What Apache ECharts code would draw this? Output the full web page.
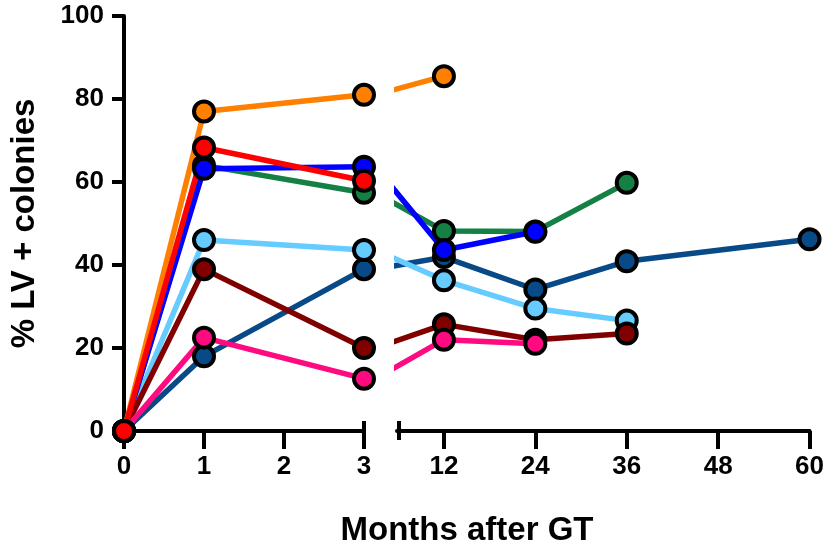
<!DOCTYPE html>
<html>
<head>
<meta charset="utf-8">
<script src="https://cdn.jsdelivr.net/npm/echarts@6/dist/echarts.min.js"></script>
<style>
  html, body { margin: 0; padding: 0; background: #fff; }
  #chart { width: 827px; height: 551px; }
</style>
</head>
<body>
<div id="chart"></div>
<script>
// months on the two parts of the broken axis
var monthsLeft = [0, 1, 3];
var monthsRight = [3, 12, 24, 36, 60];
var ticksRight = [12, 24, 36, 48, 60];

// % LV+ colonies per subject (null = not measured)
var orange    = [0, 77, 81, 85.5, null, null, null];
var red       = [0, 68.3, 60.3, null, null, null, null];
var blue      = [0, 63.2, 63.7, 43.6, 48, null, null];
var green     = [0, 64, 57.4, 48.2, 48.1, 59.8, null];
var lightBlue = [0, 46, 43.6, 36.3, 29.5, 26.6, null];
var darkRed   = [0, 39, 20, 25.7, 22, 23.5, null];
var navy      = [0, 18, 39, 41.9, 34.1, 40.9, 46.2];
var pink      = [0, 22.5, 12.6, 22, 21, null, null];

var subjects = [
    {name: 'orange', color: '#ff8000', values: orange},
    {name: 'navy', color: '#074a87', values: navy},
    {name: 'green', color: '#158044', values: green},
    {name: 'lightBlue', color: '#66ccff', values: lightBlue},
    {name: 'blue', color: '#0000ff', values: blue},
    {name: 'darkRed', color: '#800000', values: darkRed},
    {name: 'pink', color: '#ff0a80', values: pink},
    {name: 'red', color: '#ff0000', values: red}
];

var rightMin = 5.84;
var font = 'Liberation Sans';
var labelStyle = {color: '#000', fontFamily: font, fontWeight: 'bold', fontSize: 26};

var series = [];
subjects.forEach(function (s) {
    var left = [];
    monthsLeft.forEach(function (m, i) {
        if (s.values[i] != null) left.push([m, s.values[i]]);
    });
    var right = [];
    monthsRight.forEach(function (m, i) {
        var v = s.values[i + 2];
        if (v == null) return;
        if (i === 0) right.push({value: [m, v], symbolSize: 0});
        else right.push([m, v]);
    });
    var common = {
        type: 'line',
        symbol: 'circle',
        symbolSize: 20,
        lineStyle: {color: s.color, width: 5.5},
        itemStyle: {color: s.color, borderColor: '#000', borderWidth: 4},
        emphasis: {disabled: true},
        animation: false
    };
    series.push(Object.assign({name: s.name, xAxisIndex: 0, yAxisIndex: 0, data: left}, common));
    if (right.length > 1) {
        series.push(Object.assign({name: s.name, xAxisIndex: 1, yAxisIndex: 1, data: right, clip: true}, common));
    }
});

var axisLine = {show: true, onZero: false, lineStyle: {color: '#000', width: 4}};

var myChart = echarts.init(document.getElementById('chart'));
option = {
    backgroundColor: '#fff',
    grid: [
        {left: 124, right: 827 - 364, top: 16, bottom: 120},
        {left: 397, right: 17, top: 16, bottom: 120}
    ],
    xAxis: [
        {
            gridIndex: 0, type: 'value', min: 0, max: 3, interval: 1, position: 'bottom',
            axisLine: axisLine,
            axisTick: {show: true, length: 18, lineStyle: {color: '#000', width: 4}},
            axisLabel: Object.assign({margin: 23}, labelStyle),
            splitLine: {show: false}
        },
        {
            gridIndex: 1, type: 'value', min: rightMin, max: 60, position: 'bottom',
            axisLine: axisLine,
            axisTick: {show: true, length: 18, customValues: ticksRight, lineStyle: {color: '#000', width: 4}},
            axisLabel: Object.assign({margin: 23, customValues: ticksRight}, labelStyle),
            splitLine: {show: false}
        },
        {
            gridIndex: 0, type: 'value', min: 0, max: 3, position: 'bottom',
            axisLine: {show: false},
            axisTick: {show: true, inside: true, length: 10, customValues: [3], lineStyle: {color: '#000', width: 4}},
            axisLabel: {show: false}, splitLine: {show: false}
        },
        {
            gridIndex: 1, type: 'value', min: rightMin, max: 60, position: 'bottom',
            axisLine: {show: false},
            axisTick: {show: true, inside: true, length: 10, customValues: [rightMin + 0.2], lineStyle: {color: '#000', width: 4}},
            axisLabel: {show: false}, splitLine: {show: false}
        },
        {
            gridIndex: 1, type: 'value', min: rightMin, max: 60, position: 'bottom',
            axisLine: {show: false},
            axisTick: {show: true, length: 9, customValues: [rightMin + 0.2], lineStyle: {color: '#000', width: 4}},
            axisLabel: {show: false}, splitLine: {show: false}
        }
    ],
    yAxis: [
        {
            gridIndex: 0, type: 'value', min: 0, max: 100, interval: 20,
            name: '% LV + colonies', nameLocation: 'middle', nameGap: 83,
            nameTextStyle: {color: '#000', fontFamily: font, fontWeight: 'bold', fontSize: 33},
            axisLine: axisLine,
            axisTick: {show: true, length: 12, lineStyle: {color: '#000', width: 4}},
            axisLabel: Object.assign({margin: 20}, labelStyle),
            splitLine: {show: false}
        },
        {
            gridIndex: 1, type: 'value', min: 0, max: 100, show: false, splitLine: {show: false}
        }
    ],
    graphic: [
        {
            type: 'text', x: 467, y: 531,
            style: {
                text: 'Months after GT', fill: '#000', font: 'bold 33px "Liberation Sans"',
                textAlign: 'center', textVerticalAlign: 'middle'
            }
        }
    ],
    series: series
};
myChart.setOption(option);
</script>
</body>
</html>
